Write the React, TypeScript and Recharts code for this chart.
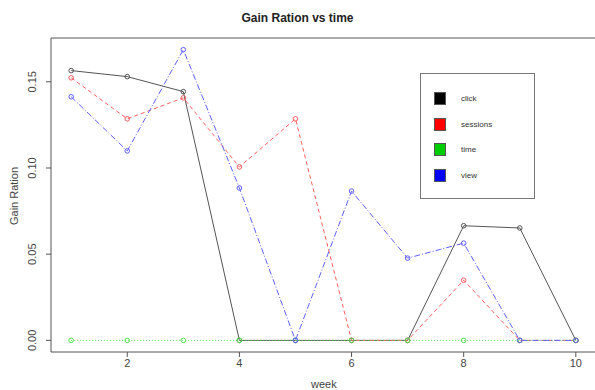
import React from 'react';
import { LineChart, Line, XAxis, YAxis, ReferenceLine } from 'recharts';

const weeks = [1, 2, 3, 4, 5, 6, 7, 8, 9, 10];
const click = [0.1565, 0.153, 0.1443, 0, 0, 0, 0, 0.0665, 0.0652, 0];
const sessions = [0.1523, 0.1285, 0.1407, 0.1006, 0.1285, 0, 0, 0.0349, 0, 0];
const time = [0, 0, 0, 0, 0, 0, 0, 0, 0, 0];
const view = [0.1413, 0.1099, 0.1686, 0.0884, 0, 0.0866, 0.0477, 0.0564, 0, 0];

const xTicks = [2, 4, 6, 8, 10];
const yTicks = [0, 0.05, 0.1, 0.15];
const yTickLabels = ['0.00', '0.05', '0.10', '0.15'];

const series = [
  { key: 'click', color: '#000000', line: '#555555', dash: undefined },
  { key: 'sessions', color: '#ff0000', line: '#ff6060', dash: '4 3' },
  { key: 'time', color: '#00cc00', line: '#50e050', dash: '1 2' },
  { key: 'view', color: '#0000ff', line: '#6060ff', dash: '6 2 1 2' },
];

const data = weeks.map((w, i) => ({
  week: w,
  click: click[i],
  sessions: sessions[i],
  time: time[i],
  view: view[i],
}));

const X_MIN = 0.64;
const X_MAX = 10.36;
const Y_MIN = -0.00674;
const Y_MAX = 0.1754;

const font = '"Liberation Sans", Arial, sans-serif';
const axisColor = '#555';

const YTick = (props: any) => {
  const { x, y, payload } = props;
  const idx = yTicks.indexOf(payload.value);
  return (
    <text
      x={x - 8}
      y={y}
      transform={`rotate(-90 ${x - 8} ${y})`}
      textAnchor="middle"
      fontSize={11}
      fill="#444"
      fontFamily={font}
    >
      {idx >= 0 ? yTickLabels[idx] : payload.value}
    </text>
  );
};

// open circle marker, never dashed
const Marker = (props: any) => {
  const { cx, cy, stroke } = props;
  if (cx == null || cy == null) return null;
  return <circle cx={cx} cy={cy} r={2.3} fill="none" stroke={stroke} strokeWidth={1} />;
};

const LegendBox = () => (
  <div
    style={{
      position: 'absolute',
      left: 420,
      top: 73,
      width: 115,
      height: 126,
      border: '1px solid #777',
      background: '#fff',
      boxSizing: 'border-box',
      paddingTop: 12,
      fontFamily: font,
      fontSize: 8,
      color: '#333',
    }}
  >
    {series.map((s) => (
      <div key={s.key} style={{ display: 'flex', alignItems: 'center', height: 25.5 }}>
        <div
          style={{
            width: 12,
            height: 13,
            marginLeft: 13,
            background: s.color,
            border: '1px solid #555',
            boxSizing: 'border-box',
          }}
        />
        <span style={{ marginLeft: 15 }}>{s.key}</span>
      </div>
    ))}
  </div>
);

export default function App() {
  return (
    <div style={{ position: 'absolute', left: 0, top: 0, width: 595, height: 390, background: '#fff', overflow: 'hidden' }}>
      <div
        style={{
          position: 'absolute',
          top: 11,
          left: 0,
          width: 595,
          textAlign: 'center',
          fontFamily: font,
          fontWeight: 'bold',
          fontSize: 12,
          color: '#222',
        }}
      >
        Gain Ration vs time
      </div>
      <div
        style={{
          position: 'absolute',
          left: 14,
          top: 196,
          transform: 'translate(-50%, -50%) rotate(-90deg)',
          fontFamily: font,
          fontSize: 11,
          color: '#444',
          whiteSpace: 'nowrap',
        }}
      >
        Gain Ration
      </div>
      <div
        style={{
          position: 'absolute',
          left: 311,
          top: 378,
          fontFamily: font,
          fontSize: 11,
          color: '#444',
        }}
      >
        week
      </div>
      <LineChart
        width={600}
        height={390}
        data={data}
        margin={{ top: 38, right: 4, left: 0, bottom: 0 }}
      >
        <XAxis
          dataKey="week"
          type="number"
          domain={[X_MIN, X_MAX]}
          ticks={xTicks}
          allowDataOverflow
          height={38}
          stroke={axisColor}
          tickSize={5}
          tick={{ fontSize: 11, fill: '#444', fontFamily: font }}
        />
        <YAxis
          type="number"
          domain={[Y_MIN, Y_MAX]}
          ticks={yTicks}
          allowDataOverflow
          width={51}
          stroke={axisColor}
          tickSize={5}
          tick={<YTick />}
        />
        <ReferenceLine y={Y_MAX} stroke={axisColor} />
        <ReferenceLine x={X_MAX} stroke={axisColor} />
        {series.map((s) => (
          <Line
            key={s.key}
            type="linear"
            dataKey={s.key}
            stroke={s.line}
            strokeWidth={1}
            strokeDasharray={s.dash}
            dot={<Marker stroke={s.line} />}
            activeDot={false}
            isAnimationActive={false}
          />
        ))}
      </LineChart>
      <LegendBox />
    </div>
  );
}
